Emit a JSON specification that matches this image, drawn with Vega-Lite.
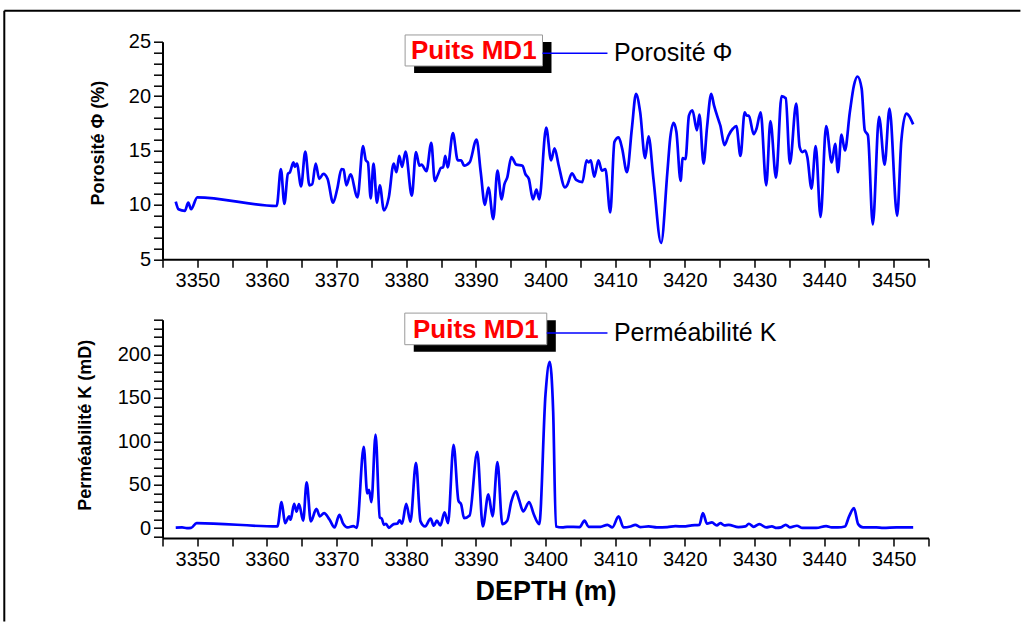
{
  "$schema": "https://vega.github.io/schema/vega-lite/v6.json",
  "padding": {"left": 2.5, "top": 8.7, "right": 0, "bottom": 0},
  "background": "white",
  "bounds": "flush",
  "spacing": 60,
  "config": {
    "view": {"stroke": null},
    "font": "Liberation Sans",
    "axis": {
      "grid": false,
      "domainColor": "black",
      "domainWidth": 2,
      "tickColor": "black",
      "tickWidth": 1.5,
      "labelColor": "black",
      "labelFont": "Liberation Sans",
      "labelFontSize": 20,
      "titleColor": "black",
      "titleFont": "Liberation Sans",
      "titleFontWeight": "bold",
      "labelOverlap": false,
      "labelFlush": false
    }
  },
  "datasets": {
    "poro": [
      {"depth": 3346.9, "phi": 10.3}, {"depth": 3347.3, "phi": 9.6}, {"depth": 3348.2, "phi": 9.45}, {"depth": 3348.7, "phi": 10.2},
      {"depth": 3349.1, "phi": 9.6}, {"depth": 3350.0, "phi": 10.7}, {"depth": 3361.4, "phi": 9.9}, {"depth": 3362.0, "phi": 13.3},
      {"depth": 3362.5, "phi": 10.1}, {"depth": 3363.0, "phi": 12.85}, {"depth": 3363.3, "phi": 13.0}, {"depth": 3363.8, "phi": 13.9},
      {"depth": 3364.0, "phi": 13.5}, {"depth": 3364.3, "phi": 13.8}, {"depth": 3364.9, "phi": 11.7}, {"depth": 3365.5, "phi": 14.9},
      {"depth": 3366.1, "phi": 11.8}, {"depth": 3366.5, "phi": 11.9}, {"depth": 3367.0, "phi": 13.8}, {"depth": 3367.5, "phi": 12.4},
      {"depth": 3368.1, "phi": 12.85}, {"depth": 3368.7, "phi": 12.4}, {"depth": 3369.5, "phi": 10.2}, {"depth": 3370.1, "phi": 11.5},
      {"depth": 3370.7, "phi": 13.3}, {"depth": 3371.0, "phi": 13.25}, {"depth": 3371.4, "phi": 11.8}, {"depth": 3372.0, "phi": 12.8},
      {"depth": 3373.0, "phi": 10.7}, {"depth": 3373.8, "phi": 15.4}, {"depth": 3374.2, "phi": 14.1}, {"depth": 3374.5, "phi": 13.9},
      {"depth": 3374.9, "phi": 10.6}, {"depth": 3375.3, "phi": 13.8}, {"depth": 3375.8, "phi": 10.2}, {"depth": 3376.2, "phi": 11.8},
      {"depth": 3376.8, "phi": 9.5}, {"depth": 3377.5, "phi": 10.7}, {"depth": 3378.2, "phi": 13.8}, {"depth": 3378.6, "phi": 13.0},
      {"depth": 3379.0, "phi": 14.5}, {"depth": 3379.4, "phi": 13.5}, {"depth": 3379.9, "phi": 14.9}, {"depth": 3380.8, "phi": 10.85},
      {"depth": 3381.4, "phi": 14.85}, {"depth": 3381.9, "phi": 13.6}, {"depth": 3382.2, "phi": 13.7}, {"depth": 3382.9, "phi": 13.1},
      {"depth": 3383.6, "phi": 15.7}, {"depth": 3384.1, "phi": 12.2}, {"depth": 3384.5, "phi": 12.7}, {"depth": 3385.0, "phi": 13.4},
      {"depth": 3385.3, "phi": 13.45}, {"depth": 3385.6, "phi": 14.5}, {"depth": 3385.95, "phi": 13.45}, {"depth": 3386.7, "phi": 16.6},
      {"depth": 3387.4, "phi": 14.1}, {"depth": 3387.9, "phi": 14.1}, {"depth": 3388.3, "phi": 13.6}, {"depth": 3389.1, "phi": 13.9},
      {"depth": 3390.1, "phi": 16.0}, {"depth": 3390.7, "phi": 13.0}, {"depth": 3391.3, "phi": 10.0}, {"depth": 3391.8, "phi": 11.6},
      {"depth": 3392.5, "phi": 8.7}, {"depth": 3393.1, "phi": 13.15}, {"depth": 3393.7, "phi": 10.5}, {"depth": 3394.1, "phi": 11.9},
      {"depth": 3394.5, "phi": 12.5}, {"depth": 3395.1, "phi": 14.4}, {"depth": 3395.8, "phi": 13.7}, {"depth": 3396.7, "phi": 13.6},
      {"depth": 3397.1, "phi": 12.85}, {"depth": 3397.6, "phi": 12.4}, {"depth": 3398.2, "phi": 10.5}, {"depth": 3398.7, "phi": 11.4},
      {"depth": 3399.1, "phi": 10.5}, {"depth": 3400.1, "phi": 17.1}, {"depth": 3400.8, "phi": 14.1}, {"depth": 3401.3, "phi": 15.2},
      {"depth": 3401.9, "phi": 13.6}, {"depth": 3402.8, "phi": 11.6}, {"depth": 3403.1, "phi": 11.8}, {"depth": 3403.8, "phi": 12.9},
      {"depth": 3404.4, "phi": 12.3}, {"depth": 3405.3, "phi": 12.1}, {"depth": 3405.9, "phi": 14.1}, {"depth": 3406.2, "phi": 13.9},
      {"depth": 3406.5, "phi": 14.1}, {"depth": 3407.0, "phi": 12.6}, {"depth": 3407.6, "phi": 14.1}, {"depth": 3408.1, "phi": 13.15},
      {"depth": 3408.6, "phi": 13.3}, {"depth": 3409.3, "phi": 9.3}, {"depth": 3409.9, "phi": 15.8}, {"depth": 3410.5, "phi": 16.2},
      {"depth": 3411.0, "phi": 15.2}, {"depth": 3411.7, "phi": 13.0}, {"depth": 3412.4, "phi": 17.0}, {"depth": 3413.0, "phi": 20.2},
      {"depth": 3413.6, "phi": 18.5}, {"depth": 3414.3, "phi": 14.3}, {"depth": 3414.8, "phi": 16.3}, {"depth": 3415.5, "phi": 12.4},
      {"depth": 3416.6, "phi": 6.5}, {"depth": 3417.5, "phi": 13.0}, {"depth": 3417.9, "phi": 16.1}, {"depth": 3418.4, "phi": 17.55},
      {"depth": 3418.8, "phi": 16.7}, {"depth": 3419.4, "phi": 12.2}, {"depth": 3419.7, "phi": 14.3}, {"depth": 3420.1, "phi": 14.2},
      {"depth": 3420.6, "phi": 18.2}, {"depth": 3421.1, "phi": 18.7}, {"depth": 3421.75, "phi": 16.85}, {"depth": 3422.1, "phi": 18.3},
      {"depth": 3422.7, "phi": 13.8}, {"depth": 3423.2, "phi": 17.15}, {"depth": 3423.8, "phi": 20.2}, {"depth": 3424.2, "phi": 19.15},
      {"depth": 3424.9, "phi": 17.7}, {"depth": 3425.1, "phi": 17.3}, {"depth": 3425.7, "phi": 15.5}, {"depth": 3426.3, "phi": 16.4},
      {"depth": 3426.9, "phi": 17.0}, {"depth": 3427.4, "phi": 17.25}, {"depth": 3428.0, "phi": 14.5}, {"depth": 3428.6, "phi": 18.5},
      {"depth": 3428.9, "phi": 18.2}, {"depth": 3429.2, "phi": 18.2}, {"depth": 3429.9, "phi": 16.5}, {"depth": 3430.3, "phi": 17.0},
      {"depth": 3430.9, "phi": 18.5}, {"depth": 3431.7, "phi": 11.8}, {"depth": 3432.3, "phi": 17.7}, {"depth": 3433.1, "phi": 12.5},
      {"depth": 3433.9, "phi": 20.0}, {"depth": 3434.5, "phi": 19.8}, {"depth": 3435.1, "phi": 13.8}, {"depth": 3436.0, "phi": 19.3},
      {"depth": 3436.5, "phi": 15.3}, {"depth": 3436.9, "phi": 14.85}, {"depth": 3437.3, "phi": 15.0}, {"depth": 3437.6, "phi": 14.4},
      {"depth": 3438.2, "phi": 11.5}, {"depth": 3438.8, "phi": 15.4}, {"depth": 3439.5, "phi": 8.9}, {"depth": 3440.3, "phi": 17.25},
      {"depth": 3441.1, "phi": 13.9}, {"depth": 3441.6, "phi": 15.6}, {"depth": 3442.0, "phi": 13.0}, {"depth": 3442.5, "phi": 16.45},
      {"depth": 3443.0, "phi": 15.0}, {"depth": 3443.7, "phi": 18.5}, {"depth": 3444.3, "phi": 21.0}, {"depth": 3444.8, "phi": 21.8},
      {"depth": 3445.4, "phi": 20.7}, {"depth": 3445.85, "phi": 16.85}, {"depth": 3446.3, "phi": 16.4}, {"depth": 3447.0, "phi": 8.2},
      {"depth": 3447.9, "phi": 18.1}, {"depth": 3448.7, "phi": 13.7}, {"depth": 3449.4, "phi": 18.85}, {"depth": 3450.5, "phi": 9.0},
      {"depth": 3451.1, "phi": 15.9}, {"depth": 3451.8, "phi": 18.4}, {"depth": 3452.8, "phi": 17.4}
    ],
    "perm": [
      {"depth": 3346.9, "k": 0.5}, {"depth": 3347.8, "k": 0.8}, {"depth": 3348.5, "k": 0.0}, {"depth": 3349.1, "k": 0.2},
      {"depth": 3349.9, "k": 5.8}, {"depth": 3361.5, "k": 1.9}, {"depth": 3362.1, "k": 30}, {"depth": 3362.6, "k": 5.8},
      {"depth": 3363.2, "k": 13.5}, {"depth": 3363.4, "k": 9.6}, {"depth": 3363.9, "k": 28}, {"depth": 3364.25, "k": 19},
      {"depth": 3364.6, "k": 27.7}, {"depth": 3365.2, "k": 8.5}, {"depth": 3365.7, "k": 52.7}, {"depth": 3366.3, "k": 7.7},
      {"depth": 3367.1, "k": 22.3}, {"depth": 3367.6, "k": 13.5}, {"depth": 3368.2, "k": 17.3}, {"depth": 3369.0, "k": 9.6},
      {"depth": 3369.7, "k": 0.8}, {"depth": 3370.4, "k": 15.4}, {"depth": 3370.9, "k": 5.8}, {"depth": 3371.6, "k": 0.8},
      {"depth": 3372.4, "k": 2.3}, {"depth": 3372.9, "k": 0.3}, {"depth": 3373.9, "k": 93.5}, {"depth": 3374.4, "k": 40},
      {"depth": 3374.65, "k": 44}, {"depth": 3375.0, "k": 30}, {"depth": 3375.6, "k": 107.7}, {"depth": 3376.2, "k": 12.3},
      {"depth": 3376.5, "k": 10.8}, {"depth": 3376.8, "k": 3.8}, {"depth": 3377.1, "k": 5}, {"depth": 3377.5, "k": 0.3},
      {"depth": 3378.2, "k": 4.6}, {"depth": 3378.7, "k": 5}, {"depth": 3379.05, "k": 8.8}, {"depth": 3379.4, "k": 5},
      {"depth": 3380.0, "k": 28}, {"depth": 3380.6, "k": 7.5}, {"depth": 3381.4, "k": 75}, {"depth": 3382.05, "k": 7.7},
      {"depth": 3382.7, "k": 1.9}, {"depth": 3383.5, "k": 10.8}, {"depth": 3383.96, "k": 2.7}, {"depth": 3384.4, "k": 8.5},
      {"depth": 3384.9, "k": 3.1}, {"depth": 3385.5, "k": 18}, {"depth": 3386.0, "k": 5.8}, {"depth": 3386.8, "k": 96},
      {"depth": 3387.5, "k": 31.5}, {"depth": 3387.9, "k": 27}, {"depth": 3388.3, "k": 11.5}, {"depth": 3389.1, "k": 14.6},
      {"depth": 3390.2, "k": 87.7}, {"depth": 3391.0, "k": 1.9}, {"depth": 3391.8, "k": 39}, {"depth": 3392.4, "k": 13.5},
      {"depth": 3393.1, "k": 76}, {"depth": 3393.8, "k": 4.6}, {"depth": 3394.5, "k": 8.5}, {"depth": 3395.1, "k": 30.8},
      {"depth": 3395.75, "k": 42.3}, {"depth": 3396.2, "k": 32.7}, {"depth": 3396.8, "k": 19.2}, {"depth": 3397.65, "k": 30},
      {"depth": 3398.3, "k": 16.2}, {"depth": 3399.1, "k": 4.6}, {"depth": 3400.0, "k": 154}, {"depth": 3400.6, "k": 191.5},
      {"depth": 3401.1, "k": 134.6}, {"depth": 3401.5, "k": 1.9}, {"depth": 3402.4, "k": 0.8}, {"depth": 3403.1, "k": 1.5},
      {"depth": 3404.9, "k": 1.2}, {"depth": 3405.6, "k": 8.5}, {"depth": 3406.2, "k": 1.5}, {"depth": 3407.9, "k": 1.5},
      {"depth": 3408.9, "k": 3.8}, {"depth": 3409.6, "k": 0.8}, {"depth": 3410.5, "k": 13.5}, {"depth": 3411.2, "k": 0.8},
      {"depth": 3412.2, "k": 1.9}, {"depth": 3412.9, "k": 3.8}, {"depth": 3413.6, "k": 1.2}, {"depth": 3414.8, "k": 1.9},
      {"depth": 3416.0, "k": 0.8}, {"depth": 3417.5, "k": 1.2}, {"depth": 3418.65, "k": 2.3}, {"depth": 3419.8, "k": 1.9},
      {"depth": 3421.0, "k": 3.1}, {"depth": 3422.1, "k": 3.8}, {"depth": 3422.6, "k": 17.3}, {"depth": 3423.2, "k": 5},
      {"depth": 3423.9, "k": 6.5}, {"depth": 3424.6, "k": 3.1}, {"depth": 3425.1, "k": 5.8}, {"depth": 3425.7, "k": 3.1},
      {"depth": 3426.3, "k": 3.8}, {"depth": 3427.7, "k": 1.2}, {"depth": 3428.7, "k": 1.9}, {"depth": 3429.2, "k": 5},
      {"depth": 3429.9, "k": 1.5}, {"depth": 3430.7, "k": 4.6}, {"depth": 3431.7, "k": 0.8}, {"depth": 3432.5, "k": 1.9},
      {"depth": 3433.2, "k": 0.2}, {"depth": 3433.8, "k": 0.8}, {"depth": 3434.5, "k": 3.8}, {"depth": 3435.1, "k": 0.8},
      {"depth": 3436.1, "k": 2.7}, {"depth": 3436.9, "k": 0.2}, {"depth": 3438.9, "k": 0.2}, {"depth": 3440.3, "k": 2.3},
      {"depth": 3441.1, "k": 0.8}, {"depth": 3442.0, "k": 0.8}, {"depth": 3443.0, "k": 1.9}, {"depth": 3443.6, "k": 13.5},
      {"depth": 3444.3, "k": 23}, {"depth": 3444.9, "k": 4.6}, {"depth": 3445.6, "k": 0.8}, {"depth": 3447.5, "k": 0.8},
      {"depth": 3448.5, "k": 0.2}, {"depth": 3450.4, "k": 0.8}, {"depth": 3452.8, "k": 0.8}
    ]
  },
  "vconcat": [
    {
      "width": 766,
      "height": 217.6,
      "layer": [
        {
          "data": {"name": "poro"},
          "mark": {"type": "line", "color": "#0000ff", "strokeWidth": 2.7, "interpolate": "monotone"},
          "encoding": {
            "x": {
              "field": "depth", "type": "quantitative",
              "scale": {"domain": [3345, 3455], "nice": false, "zero": false},
              "axis": {
                "title": null,
                "values": [3345, 3350, 3355, 3360, 3365, 3370, 3375, 3380, 3385, 3390, 3395, 3400, 3405, 3410, 3415, 3420, 3425, 3430, 3435, 3440, 3445, 3450, 3455],
                "tickCount": 500,
                "format": "d",
                "labelExpr": "datum.value % 10 === 0 ? datum.label : ''",
                "labelOverlap": false,
                "labelFlush": false,
                "tickSize": 8,
                "labelPadding": 3,
                "encode": {"ticks": {"update": {"y2": {"signal": "datum.value % 10 === 0 ? 8 : 4.5"}}}}
              }
            },
            "y": {
              "field": "phi", "type": "quantitative",
              "scale": {"domain": [5, 25], "nice": false, "zero": false},
              "axis": {
                "title": "Porosité Φ (%)",
                "titleFontSize": 18,
                "titleAngle": 270,
                "titleAlign": "center",
                "titleBaseline": "middle",
                "titleX": -64,
                "titleY": 101,
                "values": [5, 6, 7, 8, 9, 10, 11, 12, 13, 14, 15, 16, 17, 18, 19, 20, 21, 22, 23, 24, 25],
                "tickCount": 500,
                "format": "d",
                "labelExpr": "datum.value % 5 === 0 ? datum.label : ''",
                "labelOverlap": false,
                "labelFlush": false,
                "tickSize": 9,
                "labelPadding": 3,
                "encode": {"ticks": {"update": {"x2": {"signal": "datum.value % 5 === 0 ? -9 : -5"}}}}
              }
            }
          }
        },
        {
          "data": {"values": [{}]},
          "mark": {"type": "rule", "color": "black", "strokeWidth": 2},
          "encoding": {
            "x": {"datum": 3322.28, "type": "quantitative"},
            "y": {"datum": 27.85, "type": "quantitative"},
            "y2": {"datum": -28.3}
          }
        },
        {
          "data": {"values": [{}]},
          "mark": {"type": "rule", "color": "black", "strokeWidth": 2},
          "encoding": {
            "x": {"datum": 3322.28, "type": "quantitative"},
            "x2": {"datum": 3468.2},
            "y": {"datum": 27.85, "type": "quantitative"}
          }
        },
        {
          "data": {"values": [{}]},
          "mark": {"type": "rect", "color": "black"},
          "encoding": {
            "x": {"datum": 3381.13, "type": "quantitative"},
            "x2": {"datum": 3400.86},
            "y": {"datum": 24.97, "type": "quantitative"},
            "y2": {"datum": 22.12}
          }
        },
        {
          "data": {"values": [{}]},
          "mark": {"type": "rect", "fill": "white", "stroke": "#9a9a9a", "strokeWidth": 1},
          "encoding": {
            "x": {"datum": 3379.84, "type": "quantitative"},
            "x2": {"datum": 3399.57},
            "y": {"datum": 25.62, "type": "quantitative"},
            "y2": {"datum": 22.77}
          }
        },
        {
          "data": {"values": [{}]},
          "mark": {"type": "text", "text": "Puits MD1", "color": "#ff0000", "font": "Liberation Sans", "fontWeight": "bold", "fontSize": 26, "align": "center", "baseline": "middle"},
          "encoding": {
            "x": {"datum": 3389.7, "type": "quantitative"},
            "y": {"datum": 24.15, "type": "quantitative"}
          }
        },
        {
          "data": {"values": [{}]},
          "mark": {"type": "rule", "color": "#0000ff", "strokeWidth": 1.5},
          "encoding": {
            "x": {"datum": 3399.57, "type": "quantitative"},
            "x2": {"datum": 3408.9},
            "y": {"datum": 23.93, "type": "quantitative"}
          }
        },
        {
          "data": {"values": [{}]},
          "mark": {"type": "text", "text": "Porosité Φ", "color": "black", "font": "Liberation Sans", "fontSize": 25, "align": "left", "baseline": "middle"},
          "encoding": {
            "x": {"datum": 3409.82, "type": "quantitative"},
            "y": {"datum": 23.93, "type": "quantitative"}
          }
        }
      ]
    },
    {
      "width": 766,
      "height": 218.4,
      "layer": [
        {
          "data": {"name": "perm"},
          "mark": {"type": "line", "color": "#0000ff", "strokeWidth": 2.7, "interpolate": "monotone"},
          "encoding": {
            "x": {
              "field": "depth", "type": "quantitative",
              "scale": {"domain": [3345, 3455], "nice": false, "zero": false},
              "axis": {
                "title": "DEPTH (m)",
                "titleFontSize": 27,
                "titleBaseline": "middle",
                "titleY": 53.3,
                "values": [3345, 3350, 3355, 3360, 3365, 3370, 3375, 3380, 3385, 3390, 3395, 3400, 3405, 3410, 3415, 3420, 3425, 3430, 3435, 3440, 3445, 3450, 3455],
                "tickCount": 500,
                "format": "d",
                "labelExpr": "datum.value % 10 === 0 ? datum.label : ''",
                "labelOverlap": false,
                "labelFlush": false,
                "tickSize": 8,
                "labelPadding": 3,
                "encode": {"ticks": {"update": {"y2": {"signal": "datum.value % 10 === 0 ? 8 : 4.5"}}}}
              }
            },
            "y": {
              "field": "k", "type": "quantitative",
              "scale": {"domain": [-11.5, 240], "nice": false, "zero": false},
              "axis": {
                "title": "Perméabilité K (mD)",
                "titleFontSize": 18,
                "titleAngle": 270,
                "titleAlign": "center",
                "titleBaseline": "middle",
                "titleX": -76.7,
                "titleY": 105,
                "values": [-10, 0, 10, 20, 30, 40, 50, 60, 70, 80, 90, 100, 110, 120, 130, 140, 150, 160, 170, 180, 190, 200, 210, 220, 230, 240],
                "tickCount": 500,
                "format": "d",
                "labelExpr": "datum.value % 50 === 0 && datum.value >= 0 ? datum.label : ''",
                "labelOverlap": false,
                "labelFlush": false,
                "tickSize": 9,
                "labelPadding": 3,
                "encode": {"ticks": {"update": {"x2": {"signal": "datum.value % 50 === 0 ? -9 : -5"}}}}
              }
            }
          }
        },
        {
          "data": {"values": [{}]},
          "mark": {"type": "rect", "color": "black"},
          "encoding": {
            "x": {"datum": 3381.08, "type": "quantitative"},
            "x2": {"datum": 3401.48},
            "y": {"datum": 239.5, "type": "quantitative"},
            "y2": {"datum": 203.2}
          }
        },
        {
          "data": {"values": [{}]},
          "mark": {"type": "rect", "fill": "white", "stroke": "#9a9a9a", "strokeWidth": 1},
          "encoding": {
            "x": {"datum": 3379.79, "type": "quantitative"},
            "x2": {"datum": 3400.18},
            "y": {"datum": 247.6, "type": "quantitative"},
            "y2": {"datum": 211.2}
          }
        },
        {
          "data": {"values": [{}]},
          "mark": {"type": "text", "text": "Puits MD1", "color": "#ff0000", "font": "Liberation Sans", "fontWeight": "bold", "fontSize": 26, "align": "center", "baseline": "middle"},
          "encoding": {
            "x": {"datum": 3389.99, "type": "quantitative"},
            "y": {"datum": 228.5, "type": "quantitative"}
          }
        },
        {
          "data": {"values": [{}]},
          "mark": {"type": "rule", "color": "#0000ff", "strokeWidth": 1.5},
          "encoding": {
            "x": {"datum": 3400.18, "type": "quantitative"},
            "x2": {"datum": 3408.9},
            "y": {"datum": 224.6, "type": "quantitative"}
          }
        },
        {
          "data": {"values": [{}]},
          "mark": {"type": "text", "text": "Perméabilité K", "color": "black", "font": "Liberation Sans", "fontSize": 25, "align": "left", "baseline": "middle"},
          "encoding": {
            "x": {"datum": 3409.82, "type": "quantitative"},
            "y": {"datum": 224.6, "type": "quantitative"}
          }
        }
      ]
    }
  ]
}
